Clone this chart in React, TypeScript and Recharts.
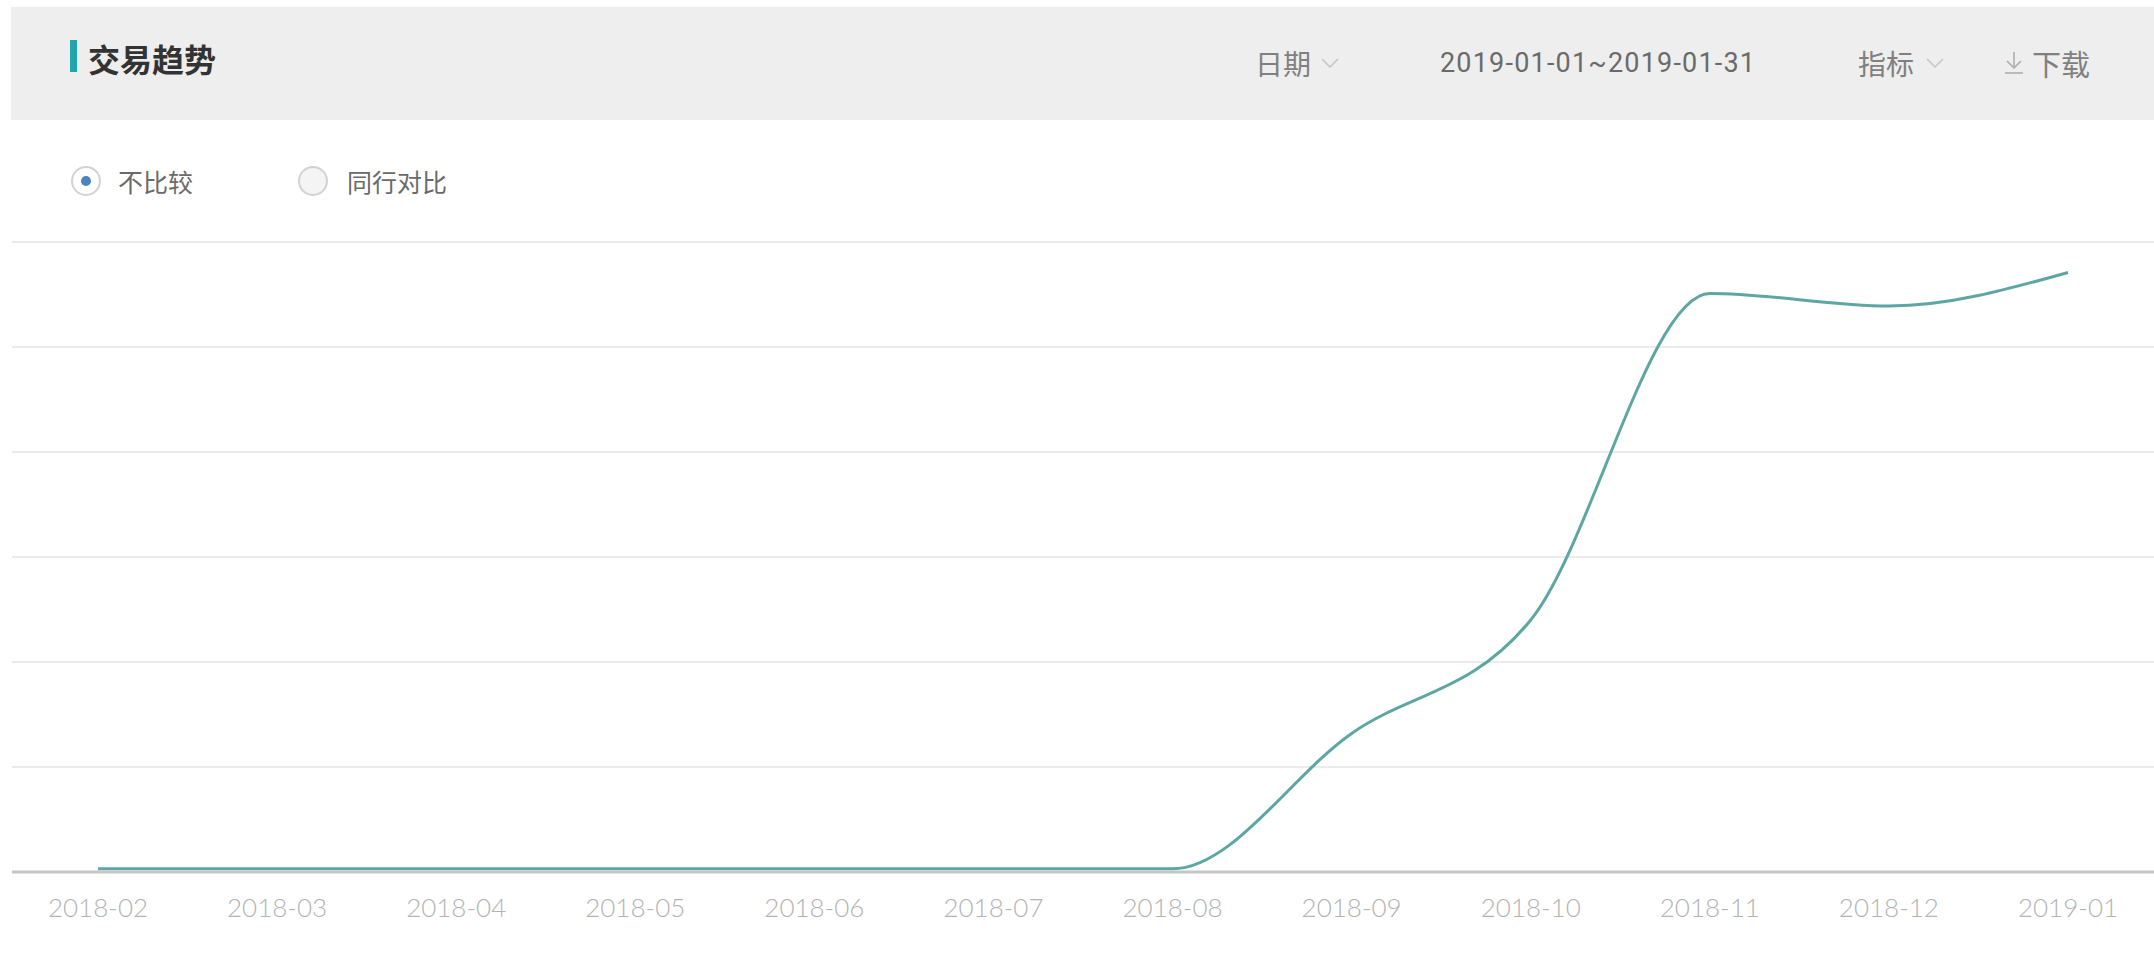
import React from "react";
import {
  CartesianGrid,
  Line,
  LineChart,
  XAxis,
  YAxis,
} from "recharts";

// month labels along the bottom axis
const MONTHS = [
  "2018-02",
  "2018-03",
  "2018-04",
  "2018-05",
  "2018-06",
  "2018-07",
  "2018-08",
  "2018-09",
  "2018-10",
  "2018-11",
  "2018-12",
  "2019-01",
];

// trade trend, in gridline units (the reference hides the y values)
const TRADE = [0.03, 0.03, 0.03, 0.03, 0.03, 0.03, 0.03, 1.32, 2.4, 5.51, 5.39, 5.71];

const Y_TICKS = [0, 1, 2, 3, 4, 5, 6];

const W = 2154;
const H = 954;
const LINE_COLOR = "#5ea6a3";
const CJK = '"Noto Sans CJK SC", "Noto Sans", sans-serif';

const chartData = MONTHS.map((month, i) => ({ month, value: TRADE[i] }));

function MonthTick(props: any) {
  const { x, y, payload } = props;
  return (
    <text
      x={x}
      y={y + 35}
      textAnchor="middle"
      dominantBaseline="central"
      fill="#b3b3b3"
      fontSize={26}
      fontWeight={300}
      fontFamily="Lato, sans-serif"
    >
      {payload.value}
    </text>
  );
}

function Chevron({ left }: { left: number }) {
  return (
    <svg
      width={20}
      height={12}
      style={{ position: "absolute", left, top: 57 }}
    >
      <polyline
        points="2,2 10,10 18,2"
        fill="none"
        stroke="#c4c4c4"
        strokeWidth={1.5}
      />
    </svg>
  );
}

function Radio({ cx, checked }: { cx: number; checked: boolean }) {
  return (
    <div
      style={{
        position: "absolute",
        left: cx - 15,
        top: 181 - 15,
        width: 26,
        height: 26,
        borderRadius: "50%",
        border: "2px solid #d2d2d2",
        background: checked ? "#ffffff" : "#f4f4f4",
      }}
    >
      {checked && (
        <div
          style={{
            position: "absolute",
            left: 8,
            top: 8,
            width: 10,
            height: 10,
            borderRadius: "50%",
            background: "#4c84bd",
          }}
        />
      )}
    </div>
  );
}

const headerText: React.CSSProperties = {
  position: "absolute",
  top: 63 - 20,
  height: 40,
  lineHeight: "40px",
  color: "#808080",
  fontSize: 27,
  fontFamily: CJK,
  whiteSpace: "nowrap",
};

const radioText: React.CSSProperties = {
  position: "absolute",
  top: 181 - 18,
  height: 36,
  lineHeight: "36px",
  color: "#6a6a6a",
  fontSize: 25,
  fontFamily: CJK,
  whiteSpace: "nowrap",
};

export default function App() {
  return (
    <div
      style={{
        position: "absolute",
        left: 0,
        top: 0,
        width: W,
        height: H,
        background: "#fff",
        overflow: "hidden",
      }}
    >
      {/* header band */}
      <div
        style={{
          position: "absolute",
          left: 11,
          top: 7,
          width: W - 11,
          height: 113,
          background: "#eeeeee",
        }}
      />
      <div
        style={{
          position: "absolute",
          left: 70,
          top: 40,
          width: 7,
          height: 32,
          background: "#1ea8ae",
        }}
      />
      <div
        style={{
          ...headerText,
          left: 88,
          top: 58 - 22,
          height: 44,
          lineHeight: "44px",
          fontSize: 32,
          fontWeight: 700,
          color: "#333",
        }}
      >
        交易趋势
      </div>

      <div style={{ ...headerText, left: 1255, fontSize: 28 }}>日期</div>
      <Chevron left={1320} />
      <div
        style={{
          ...headerText,
          left: 1440,
          fontFamily: "Roboto, sans-serif",
          color: "#6a6a6a",
          letterSpacing: 1.2,
        }}
      >
        2019-01-01~2019-01-31
      </div>
      <div style={{ ...headerText, left: 1858, fontSize: 28 }}>指标</div>
      <Chevron left={1925} />
      <svg
        width={22}
        height={26}
        style={{ position: "absolute", left: 2003, top: 50 }}
      >
        <line x1={11} y1={2} x2={11} y2={18} stroke="#aaa" strokeWidth={1.5} />
        <polyline
          points="4,11 11,18 18,11"
          fill="none"
          stroke="#aaa"
          strokeWidth={1.5}
        />
        <line x1={2} y1={23} x2={20} y2={23} stroke="#aaa" strokeWidth={1.5} />
      </svg>
      <div style={{ ...headerText, left: 2032, fontSize: 29 }}>下载</div>

      {/* compare options */}
      <Radio cx={86} checked />
      <div style={{ ...radioText, left: 118 }}>不比较</div>
      <Radio cx={313} checked={false} />
      <div style={{ ...radioText, left: 347 }}>同行对比</div>

      <div style={{ position: "absolute", left: 0, top: 0 }}>
        <LineChart
          width={W}
          height={H}
          data={chartData}
          margin={{ top: 242, right: 0, bottom: 32, left: 12 }}
        >
          <CartesianGrid
            vertical={false}
            stroke="#ebebeb"
            strokeWidth={2}
          />
          <XAxis
            dataKey="month"
            height={50}
            padding={{ left: 86, right: 86 }}
            tickLine={false}
            tickSize={0}
            tickMargin={0}
            axisLine={{ stroke: "#c6c6c6", strokeWidth: 3 }}
            tick={<MonthTick />}
            interval={0}
          />
          <YAxis hide domain={[0, 6]} ticks={Y_TICKS} />
          <Line
            type="monotone"
            dataKey="value"
            stroke={LINE_COLOR}
            strokeWidth={3}
            dot={false}
            activeDot={false}
            isAnimationActive={false}
          />
        </LineChart>
      </div>
    </div>
  );
}
